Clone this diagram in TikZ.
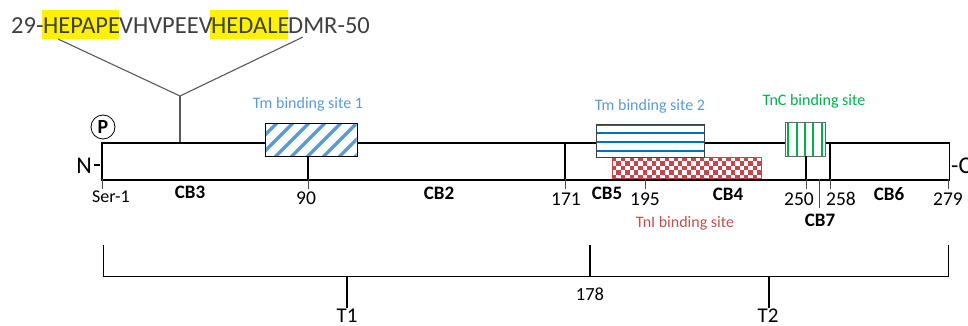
\documentclass[tikz,border=0pt]{standalone}
\usepackage{fontspec}
\setmainfont{Carlito}
\definecolor{seqgray}{HTML}{404040}
\definecolor{tmblue}{HTML}{5B9BD5}
\definecolor{tmdark}{HTML}{0070C0}
\definecolor{tngreen}{HTML}{00B050}
\definecolor{tnred}{HTML}{C0504D}
\definecolor{chk}{HTML}{C4474B}
\tikzset{
  x=1pt,y=-1pt,
  lab/.style={inner sep=0pt,anchor=center,text=black},
  num/.style={lab,font=\fontsize{19.5}{20}\selectfont},
  cb/.style={lab,font=\fontsize{19}{20}\selectfont\bfseries},
  site/.style={lab,font=\fontsize{16}{16}\selectfont},
  seqtext/.style={inner sep=0pt,anchor=base west,text=seqgray,font=\fontsize{24.5}{25}\selectfont},
  sitebox/.style={draw=black,line width=1pt,inner sep=0pt,rectangle,anchor=north west},
  heavy/.style={line width=1.7pt,black},
  thin tick/.style={line width=0.9pt,black!70},
  leader/.style={line width=1.1pt,black!65},
}
\begin{document}
\begin{tikzpicture}
\useasboundingbox (0,0) rectangle (968,326);
\clip (0,0) rectangle (968,326);
% sequence
\fill[yellow] (42,10) rectangle (119,39);
\fill[yellow] (210,10) rectangle (288,39);
\node[seqtext] (sa) at (11,34) {29-};
\node[seqtext] (sb) at (43,34) {HEPAPE};
\node[seqtext] (sc) at (119,34) {VHVPEEV};
\node[seqtext] (sd) at (211,34) {HEDALE};
\node[seqtext] (se) at (288,34) {DMR-50};
\coordinate (sl) at (58,39);
\coordinate (sr) at (303,37);
\coordinate (fork) at (180,96);
\coordinate (forkb) at (180,143);
\draw[leader] (sl) -- (fork) -- (sr);
\draw[leader] (fork) -- (forkb);
% main bar
\node[draw=black,line width=1.7pt,rectangle,inner sep=0pt,anchor=north west,minimum width=847.5pt,minimum height=37pt] (bar) at (101,142.4) {};
% ticks
\coordinate (t90a) at (308,156); \coordinate (t90b) at (308,178.5); \coordinate (t90c) at (308,189);
\coordinate (t171a) at (565,143); \coordinate (t171b) at (565,178.5); \coordinate (t171c) at (565,189);
\coordinate (t195a) at (645,178.5); \coordinate (t195c) at (645,189);
\coordinate (t250a) at (806,156); \coordinate (t250b) at (806,178.5); \coordinate (t250c) at (806,189);
\coordinate (t7a) at (819,178.5); \coordinate (t7c) at (819,208);
\coordinate (t258a) at (830,143); \coordinate (t258b) at (830,178.5); \coordinate (t258c) at (830,189);
\coordinate (t279a) at (948,178.5); \coordinate (t279c) at (948,189);
\coordinate (t1a) at (102,178.5); \coordinate (t1c) at (102,189);
\draw[heavy] (t171a) -- (t171b);
\draw[heavy] (t258a) -- (t258b);
\draw[thin tick] (t171b) -- (t171c);
\draw[thin tick] (t195a) -- (t195c);
\draw[thin tick] (t90b) -- (t90c);
\draw[thin tick] (t250b) -- (t250c);
\draw[thin tick] (t7a) -- (t7c);
\draw[thin tick] (t258b) -- (t258c);
\draw[thin tick] (t279a) -- (t279c);
\draw[thin tick] (t1a) -- (t1c);
% TnI checker
\fill[white] (612,157) rectangle (761,178);
\begin{scope}
\clip (612,157) rectangle (761,178);
\foreach \i in {0,...,34}{\foreach \j in {0,...,4}{
  \pgfmathtruncatemacro{\m}{mod(\i+\j,2)}
  \ifnum\m=0 \fill[chk] ({612+4.4*\i},{157+4.4*\j}) rectangle +(4.4,4.4);\fi
}}
\end{scope}
\node[sitebox,draw=chk,line width=1pt,minimum width=149pt,minimum height=21.5pt] (tni) at (611.5,156.8) {};
% Tm1
\fill[white] (265.5,123) rectangle (356.5,156);
\begin{scope}
\clip (265.5,123) rectangle (356.5,156);
\foreach \k in {0,...,8}{
  \draw[tmblue,line width=3.5pt] ({240+\k*16},160) -- +(40,-40);
}
\end{scope}
\node[sitebox,minimum width=91.5pt,minimum height=33.5pt] (tm1) at (265,122.7) {};
% Tm2
\fill[white] (596,124) rectangle (704,157);
\foreach \yy in {125,133,142,151}{\draw[tmdark,line width=1.6pt] (596,\yy) -- (703.5,\yy);}
\node[sitebox,draw=black!75,minimum width=108pt,minimum height=33pt] (tm2) at (595.5,123.7) {};
% TnC
\fill[white] (785,122) rectangle (825,156);
\foreach \xx in {788,797,805,813,822}{\draw[tngreen,line width=1.5pt] (\xx,122) -- (\xx,156);}
\node[sitebox,draw=black!60,minimum width=40pt,minimum height=34pt] (tnc) at (784.5,122) {};
\draw[heavy] (t90a) -- (t90b);
\draw[heavy] (t250a) -- (t250b);
% P, N, C
\node[draw=black,circle,line width=0.8pt,minimum size=24pt,inner sep=0pt,font=\fontsize{20}{20}\selectfont\bfseries] (p) at (103,127) {P};
\node[lab,font=\fontsize{24}{24}\selectfont] (nt) at (84,166) {N};
\node[lab,font=\fontsize{24}{24}\selectfont,anchor=west] (ct) at (951,166) {-C};
\coordinate (na) at (94,165); \coordinate (nb) at (100,165);
\draw[line width=1.4pt,black] (na) -- (nb);
% labels
\node[num,font=\fontsize{18}{18}\selectfont] (ser) at (111,197) {Ser-1};
\node[cb] (cb3) at (190,192) {CB3};
\node[cb] (cb2) at (439,193) {CB2};
\node[cb] (cb5) at (607,193) {CB5};
\node[cb] (cb4) at (728,194) {CB4};
\node[cb] (cb6) at (889,194) {CB6};
\node[cb] (cb7) at (820,220) {CB7};
\node[num] (n90) at (306,198) {90};
\node[num] (n171) at (566,199) {171};
\node[num] (n195) at (645,199) {195};
\node[num] (n250) at (799,199) {250};
\node[num] (n258) at (841,199) {258};
\node[num] (n279) at (948,199) {279};
\node[site,text=tmblue] (s1) at (308,104) {Tm binding site 1};
\node[site,text=tmblue] (s2) at (650,106) {Tm binding site 2};
\node[site,text=tngreen] (s3) at (814,101) {TnC binding site};
\node[site,text=tnred] (s4) at (685,223) {TnI binding site};
% bracket
\coordinate (bl) at (103,245); \coordinate (blb) at (103,276);
\coordinate (br) at (948,245); \coordinate (brb) at (948,276);
\coordinate (bm) at (590,245); \coordinate (bmb) at (590,276);
\coordinate (b1) at (347,276); \coordinate (b1e) at (347,308);
\coordinate (b2) at (769,276); \coordinate (b2e) at (769,308);
\draw[line width=1pt,black] (bl) -- (blb) -- (brb) -- (br);
\draw[line width=1.6pt,black] (bm) -- (bmb);
\draw[line width=1.2pt,black] (b1) -- (b1e);
\draw[line width=1.2pt,black] (b2) -- (b2e);
\node[lab,font=\fontsize{18.5}{19}\selectfont] (n178) at (590,294) {178};
\node[lab,anchor=base,font=\fontsize{21}{21}\selectfont] (T1) at (347,322) {T1};
\node[lab,anchor=base,font=\fontsize{21}{21}\selectfont] (T2) at (768,322) {T2};
\end{tikzpicture}
\end{document}
